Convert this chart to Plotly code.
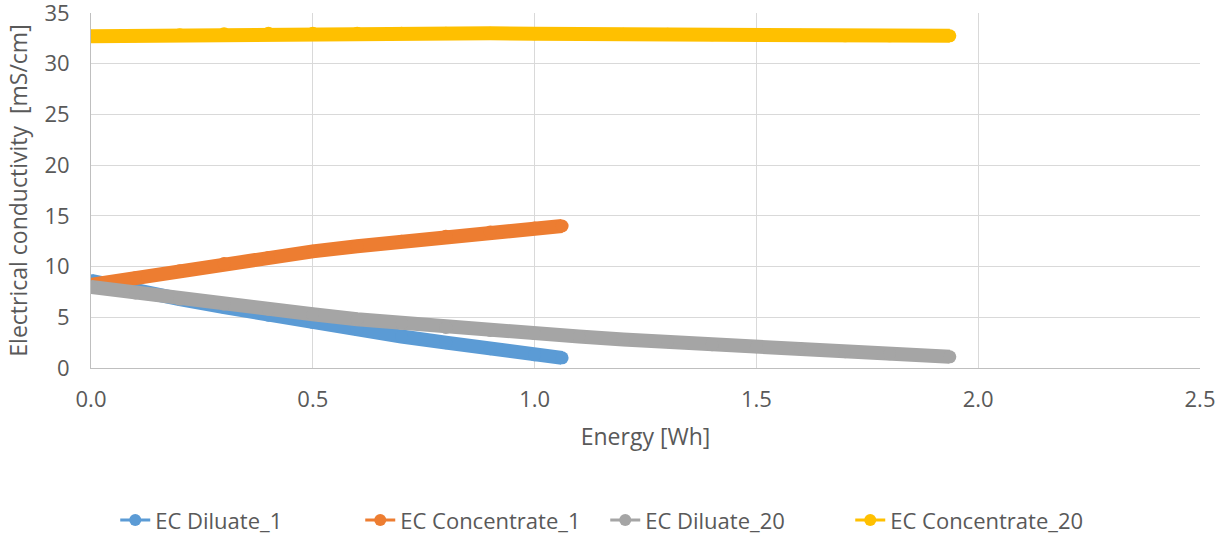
import plotly.graph_objects as go

# Energy [Wh] and EC [mS/cm]
x_dil1 = [0.0, 0.1, 0.2, 0.3, 0.4, 0.5, 0.6, 0.7, 0.8, 0.9, 1.0, 1.062]
y_dil1 = [8.6, 7.6, 6.8, 6.0, 5.2, 4.5, 3.8, 3.1, 2.5, 1.9, 1.3, 1.0]

x_con1 = [0.0, 0.1, 0.2, 0.3, 0.4, 0.5, 0.6, 0.7, 0.8, 0.9, 1.0, 1.062]
y_con1 = [8.2, 8.9, 9.6, 10.3, 10.9, 11.5, 12.0, 12.5, 13.0, 13.4, 13.8, 14.0]

x_dil20 = [0.0, 0.1, 0.2, 0.3, 0.4, 0.5, 0.6, 0.7, 0.8, 0.9, 1.0, 1.1, 1.2, 1.3, 1.4, 1.5, 1.6, 1.7, 1.8, 1.936]
y_dil20 = [8.0, 7.4, 6.8, 6.3, 5.8, 5.3, 4.8, 4.4, 4.0, 3.7, 3.4, 3.1, 2.8, 2.6, 2.3, 2.1, 1.9, 1.6, 1.4, 1.1]

x_con20 = [0.0, 0.1, 0.2, 0.3, 0.4, 0.5, 0.6, 0.7, 0.8, 0.9, 1.0, 1.1, 1.2, 1.3, 1.4, 1.5, 1.6, 1.7, 1.8, 1.936]
y_con20 = [32.7, 32.75, 32.85, 32.95, 33.0, 33.0, 33.0, 33.0, 33.0, 33.0, 32.95, 32.95, 32.9, 32.9, 32.85, 32.8, 32.8, 32.75, 32.75, 32.75]

names = ["EC Diluate_1", "EC Concentrate_1", "EC Diluate_20", "EC Concentrate_20"]
colors = ["#5b9bd5", "#ed7d31", "#a5a5a5", "#ffc000"]
series = [(x_dil1, y_dil1), (x_con1, y_con1), (x_dil20, y_dil20), (x_con20, y_con20)]

x_ticks = [0.0, 0.5, 1.0, 1.5, 2.0, 2.5]
y_ticks = [0, 5, 10, 15, 20, 25, 30, 35]

FONT = "Open Sans"
TXT = "#595959"
fig = go.Figure()

for (xs, ys), name, c in zip(series, names, colors):
    fig.add_trace(go.Scatter(x=xs, y=ys, mode="lines+markers", name=name,
                             line=dict(color=c, width=14),
                             marker=dict(color=c, size=13),
                             showlegend=False, hoverinfo="skip"))

for name, c in zip(names, colors):
    fig.add_trace(go.Scatter(x=[None], y=[None], mode="lines+markers", name=name,
                             line=dict(color=c, width=3),
                             marker=dict(color=c, size=12),
                             showlegend=True))

fig.update_layout(
    width=1226, height=533,
    margin=dict(l=91, r=26, t=13, b=165, autoexpand=False),
    paper_bgcolor="white", plot_bgcolor="white",
    font=dict(family=FONT, color=TXT, size=22),
    showlegend=True,
    legend=dict(orientation="h", xref="container", yref="container",
                x=0.094, xanchor="left", y=0.024, yanchor="middle",
                entrywidth=200, entrywidthmode="pixels",
                font=dict(size=22, color=TXT)),
    xaxis=dict(range=[0, 2.5], tickvals=x_ticks, ticktext=[f"{v:.1f}" for v in x_ticks],
               showgrid=True, gridcolor="#d9d9d9", gridwidth=1,
               showline=True, linecolor="#bfbfbf", linewidth=1, mirror=False,
               zeroline=False, ticks="outside", ticklen=12, tickcolor="rgba(0,0,0,0)",
               tickfont=dict(size=22), ticklabeloverflow="allow",
               title=dict(text="Energy [Wh]", font=dict(size=23), standoff=16)),
    yaxis=dict(range=[0, 35], tickvals=y_ticks,
               showgrid=True, gridcolor="#d9d9d9", gridwidth=1,
               showline=True, linecolor="#bfbfbf", linewidth=1,
               zeroline=False, ticks="outside", ticklen=16, tickcolor="rgba(0,0,0,0)",
               tickfont=dict(size=22), ticklabeloverflow="allow",
               title=dict(text="Electrical conductivity  [mS/cm]", font=dict(size=23), standoff=10)),
)

fig.write_html("out.html")
